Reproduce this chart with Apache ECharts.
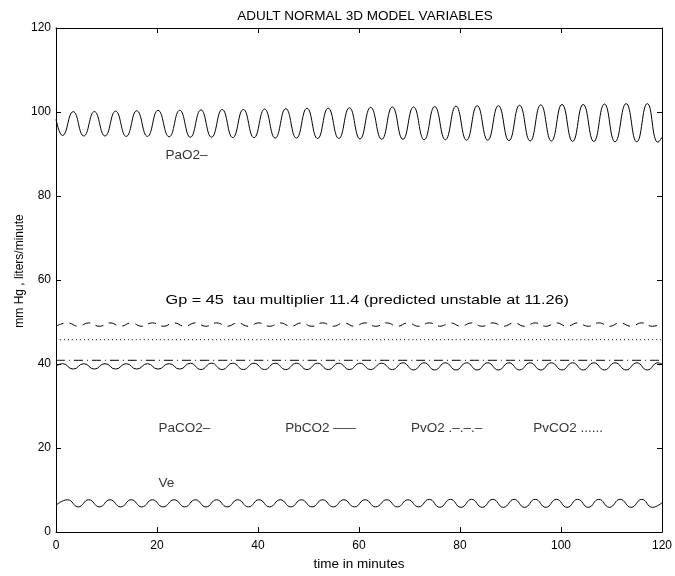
<!DOCTYPE html>
<html>
<head>
<meta charset="utf-8">
<script src="https://cdn.jsdelivr.net/npm/echarts@6/dist/echarts.min.js"></script>
<style>html,body{margin:0;padding:0;background:#fff}#c{width:675px;height:576px}</style>
</head>
<body>
<div id="c"></div>
<script>
const FONT = '"Liberation Sans", Arial, Helvetica, sans-serif';
const titleText = 'ADULT NORMAL 3D MODEL VARIABLES';
const xName = 'time in minutes';
const yName = 'mm Hg , liters/minute';
const xTicks = [0, 20, 40, 60, 80, 100, 120];
const yTicks = [0, 20, 40, 60, 80, 100, 120];

const PaO2 = [[0,98.3],[1.3,94.4],[3.4,100.1],[5.5,94.3],[7.6,100.1],[9.7,94.3],[11.8,100.2],[13.9,94.2],[16.0,100.3],[18.1,94.2],[20.2,100.4],[22.4,94.1],[24.5,100.4],[26.6,94.0],[28.7,100.5],[30.8,94.0],[32.9,100.6],[35.0,93.9],[37.1,100.6],[39.2,93.9],[41.3,100.7],[43.4,93.8],[45.5,100.8],[47.6,93.8],[49.7,100.9],[51.8,93.7],[53.9,100.9],[56.0,93.7],[58.1,101.0],[60.2,93.6],[62.3,101.1],[64.5,93.5],[66.6,101.2],[68.7,93.5],[70.8,101.2],[72.9,93.4],[75.0,101.3],[77.1,93.4],[79.2,101.4],[81.3,93.3],[83.4,101.5],[85.5,93.3],[87.6,101.5],[89.7,93.2],[91.8,101.6],[93.9,93.1],[96.0,101.7],[98.1,93.1],[100.2,101.8],[102.3,93.0],[104.4,101.8],[106.5,93.0],[108.6,101.9],[110.7,92.9],[112.9,102.0],[115.0,92.9],[117.1,102.0],[119.2,92.8],[120,94.0]];

const PaCO2 = [[0,39.5],[1.3,40.1],[3.4,38.8],[5.5,40.1],[7.6,38.8],[9.7,40.1],[11.8,38.8],[13.9,40.1],[16.0,38.8],[18.1,40.1],[20.2,38.8],[22.4,40.1],[24.5,38.8],[26.6,40.2],[28.7,38.7],[30.8,40.2],[32.9,38.7],[35.0,40.2],[37.1,38.7],[39.2,40.2],[41.3,38.7],[43.4,40.2],[45.5,38.7],[47.6,40.2],[49.7,38.7],[51.8,40.2],[53.9,38.7],[56.0,40.2],[58.1,38.7],[60.2,40.2],[62.3,38.7],[64.5,40.2],[66.6,38.7],[68.7,40.3],[70.8,38.6],[72.9,40.3],[75.0,38.6],[77.1,40.3],[79.2,38.6],[81.3,40.3],[83.4,38.6],[85.5,40.3],[87.6,38.6],[89.7,40.3],[91.8,38.6],[93.9,40.3],[96.0,38.6],[98.1,40.3],[100.2,38.6],[102.3,40.3],[104.4,38.6],[106.5,40.3],[108.6,38.6],[110.7,40.3],[112.9,38.6],[115.0,40.3],[117.1,38.6],[119.2,40.3],[120,40.0]];

const PbCO2 = [[0,49.0],[2.3,49.8],[4.4,49.0],[6.5,49.8],[8.6,49.0],[10.7,49.8],[12.8,49.0],[14.9,49.8],[17.0,49.0],[19.1,49.8],[21.2,49.0],[23.4,49.8],[25.5,49.0],[27.6,49.8],[29.7,49.0],[31.8,49.8],[33.9,49.0],[36.0,49.8],[38.1,49.0],[40.2,49.8],[42.3,49.0],[44.4,49.8],[46.5,49.0],[48.6,49.8],[50.7,49.0],[52.8,49.8],[54.9,49.0],[57.0,49.8],[59.1,49.0],[61.2,49.8],[63.3,49.0],[65.5,49.8],[67.6,49.0],[69.7,49.8],[71.8,49.0],[73.9,49.8],[76.0,49.0],[78.1,49.8],[80.2,49.0],[82.3,49.8],[84.4,49.0],[86.5,49.8],[88.6,49.0],[90.7,49.8],[92.8,49.0],[94.9,49.8],[97.0,49.0],[99.1,49.8],[101.2,49.0],[103.3,49.8],[105.4,49.0],[107.5,49.8],[109.6,49.0],[111.7,49.8],[113.9,49.0],[116.0,49.8],[118.1,49.0],[120,49.6]];

const PvO2 = [[0,40.9],[30,40.9],[60,40.9],[90,40.9],[120,40.9]];
const PvCO2 = [[0,45.8],[30,45.8],[60,45.8],[90,45.8],[120,45.8]];

const Ve = [[0,6.4],[2.3,7.7],[4.4,6.0],[6.5,7.7],[8.6,6.0],[10.7,7.7],[12.8,6.0],[14.9,7.7],[17.0,6.0],[19.1,7.7],[21.2,6.0],[23.4,7.7],[25.5,6.0],[27.6,7.7],[29.7,6.0],[31.8,7.7],[33.9,6.0],[36.0,7.7],[38.1,6.0],[40.2,7.7],[42.3,6.0],[44.4,7.7],[46.5,6.0],[48.6,7.7],[50.7,6.0],[52.8,7.7],[54.9,6.0],[57.0,7.7],[59.1,6.0],[61.2,7.7],[63.3,6.0],[65.5,7.7],[67.6,6.0],[69.7,7.7],[71.8,6.0],[73.9,7.8],[76.0,5.9],[78.1,7.8],[80.2,5.9],[82.3,7.8],[84.4,5.9],[86.5,7.8],[88.6,5.9],[90.7,7.8],[92.8,5.9],[94.9,7.8],[97.0,5.9],[99.1,7.8],[101.2,5.9],[103.3,7.8],[105.4,5.9],[107.5,7.8],[109.6,5.9],[111.7,7.8],[113.9,5.9],[116.0,7.8],[118.1,5.9],[120,7.0]];

const annotations = [
  {text: 'PaO2\u2013', x: 21.7, y: 89.8},
  {text: 'PaCO2\u2013', x: 20.3, y: 24.6},
  {text: 'PbCO2 \u2013\u2013\u2013', x: 45.4, y: 24.6},
  {text: 'PvO2 .\u2013.\u2013.\u2013', x: 70.3, y: 24.6},
  {text: 'PvCO2 ......', x: 94.5, y: 24.6},
  {text: 'Ve', x: 20.3, y: 11.6}
];
const noteText = 'Gp = 45  tau multiplier 11.4 (predicted unstable at 11.26)';
const notePos = [21.7, 55.3];

const chart = echarts.init(document.getElementById('c'), null, {renderer: 'canvas'});

function lineSeries(name, data, type) {
  return {
    name: name, type: 'line', data: data, smooth: 0.5, showSymbol: false, symbol: 'none',
    silent: true, animation: false,
    lineStyle: {color: '#000', width: 1, type: type}
  };
}

const axisCommon = {
  min: 0, max: 120, interval: 20,
  splitLine: {show: false},
  axisLine: {show: true, onZero: false, lineStyle: {color: '#000', width: 1}},
  axisTick: {show: true, inside: true, length: 5, lineStyle: {color: '#000'}},
  axisLabel: {color: '#000', fontFamily: FONT, fontSize: 12}
};

chart.setOption({
  animation: false,
  backgroundColor: '#fff',
  title: {
    text: titleText, left: 360, top: 4, textAlign: 'center',
    textStyle: {fontFamily: FONT, fontSize: 13.5, fontWeight: 'normal', color: '#000'}
  },
  grid: {left: 56, right: 11, top: 28, bottom: 40, containLabel: false},
  xAxis: [
    Object.assign({}, axisCommon, {type: 'value', position: 'bottom',
      name: xName, nameLocation: 'middle', nameGap: 21,
      nameTextStyle: {fontFamily: FONT, fontSize: 13.5, color: '#000'},
      axisLabel: Object.assign({}, axisCommon.axisLabel, {margin: 8})}),
    Object.assign({}, axisCommon, {type: 'value', position: 'top',
      axisLabel: {show: false}})
  ],
  yAxis: [
    Object.assign({}, axisCommon, {type: 'value', position: 'left',
      axisLabel: Object.assign({}, axisCommon.axisLabel, {margin: 5})}),
    Object.assign({}, axisCommon, {type: 'value', position: 'right',
      axisLabel: {show: false}})
  ],
  series: [
    lineSeries('PaO2', PaO2, 'solid'),
    lineSeries('PaCO2', PaCO2, 'solid'),
    lineSeries('PbCO2', PbCO2, [8, 6]),
    lineSeries('PvO2', PvO2, [9, 4, 1, 4]),
    lineSeries('PvCO2', PvCO2, [1, 3]),
    lineSeries('Ve', Ve, 'solid'),
    {
      type: 'scatter', silent: true, animation: false, symbolSize: 0,
      data: annotations.map(a => ({value: [a.x, a.y], name: a.text})),
      label: {show: true, position: 'right', distance: 0, formatter: p => p.name,
        fontFamily: FONT, fontSize: 13.5, color: '#000'}
    }
  ]
});

const np = chart.convertToPixel({xAxisIndex: 0, yAxisIndex: 0}, notePos);
chart.setOption({
  graphic: [
    {
      type: 'text', x: 20, y: 271, rotation: Math.PI / 2, silent: true,
      style: {text: yName, fontFamily: FONT, fontSize: 12, fill: '#000',
        textAlign: 'center', textVerticalAlign: 'middle'}
    },
    {
      type: 'text', x: np[0], y: np[1], scaleX: 1.2, silent: true,
      style: {text: noteText, fontFamily: FONT, fontSize: 13.5, fill: '#000',
        textAlign: 'left', textVerticalAlign: 'middle'}
    }
  ]
});
</script>
</body>
</html>
